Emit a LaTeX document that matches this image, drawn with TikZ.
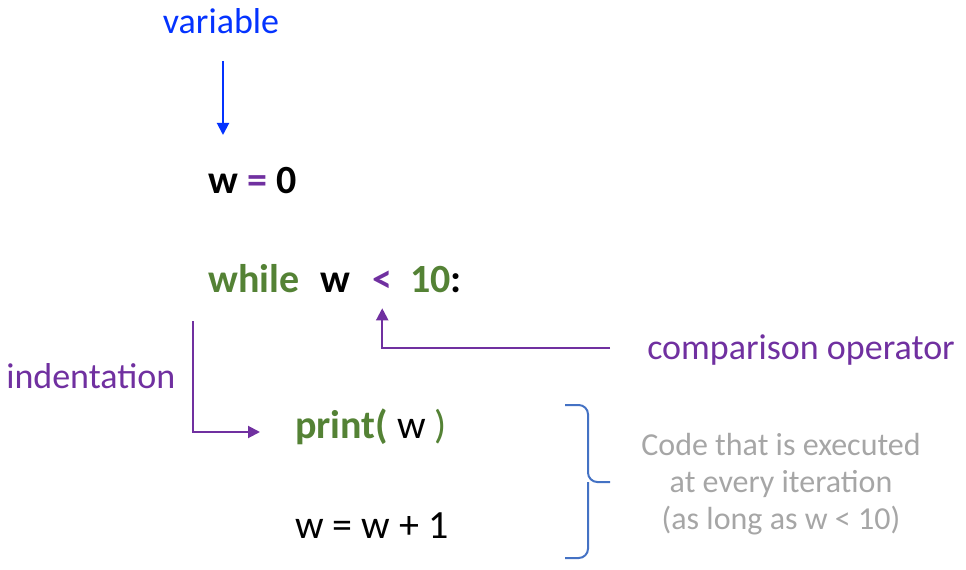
\documentclass[tikz,border=0pt]{standalone}
\usepackage{fontspec}
\setmainfont{Carlito}
\usetikzlibrary{arrows.meta,positioning}
\definecolor{varblue}{RGB}{4,51,255}
\definecolor{oppurple}{RGB}{112,48,160}
\definecolor{kwgreen}{RGB}{84,130,53}
\definecolor{braceblue}{RGB}{68,114,196}
\definecolor{notegray}{RGB}{166,166,166}
\begin{document}
\begin{tikzpicture}[x=0.75pt,y=-0.75pt,
    code/.style={font=\fontsize{30}{36}\selectfont\bfseries,inner sep=0pt,anchor=base west},
    plaincode/.style={font=\fontsize{30}{36}\selectfont,inner sep=0pt,anchor=base west},
    lbl/.style={font=\fontsize{27}{32}\selectfont,inner sep=0pt},
    pointer/.style={-{Triangle[length=9pt,width=9pt]},line width=1.5pt}]
  \useasboundingbox (0,0) rectangle (966,570);

  \node[lbl,text=varblue,anchor=base] (var) at (221,34) {variable};
  \node[code] (init) at (208,194) {w {\color{oppurple}=} 0};

  \node[code,text=kwgreen] (while) at (208,292) {while};
  \node[code] (w) at (320,292) {w};
  \node[code,text=oppurple] (lt) at (372,292) {<};
  \node[code,text=kwgreen] (ten) at (410,292) {10{\color{black}:}};

  \node[plaincode] (print) at (295,438) {{\bfseries\color{kwgreen}print(} w {\color{kwgreen})}};
  \node[plaincode] (incr) at (295,538) {w = w + 1};

  \node[lbl,text=oppurple,anchor=base west] (cmp) at (647,359) {comparison operator};
  \node[lbl,text=oppurple,anchor=base west] (indent) at (6,388) {indentation};
  \node[lbl,text=notegray,align=center,font=\fontsize{24}{28}\selectfont] (note) at (781,484)
    {Code that is executed\\at every iteration\\(as long as w < 10)};

  \coordinate (vartop) at (223,61);
  \coordinate (indtop) at (193,321);
  \coordinate (cmpend) at (610,348);

  \draw[pointer,varblue] (vartop) -- (223,135);
  \draw[pointer,oppurple] (cmpend) -| ([yshift=-12pt]lt.south);
  \draw[pointer,oppurple] (indtop) |- (260,432);

  % brace round the loop body
  \draw[braceblue,line width=1.5pt,rounded corners=7pt]
    (565,405) -- (588,405) -- (588,482) -- (610,482)
    (588,482) -- (588,558) -- (565,558);
\end{tikzpicture}
\end{document}
